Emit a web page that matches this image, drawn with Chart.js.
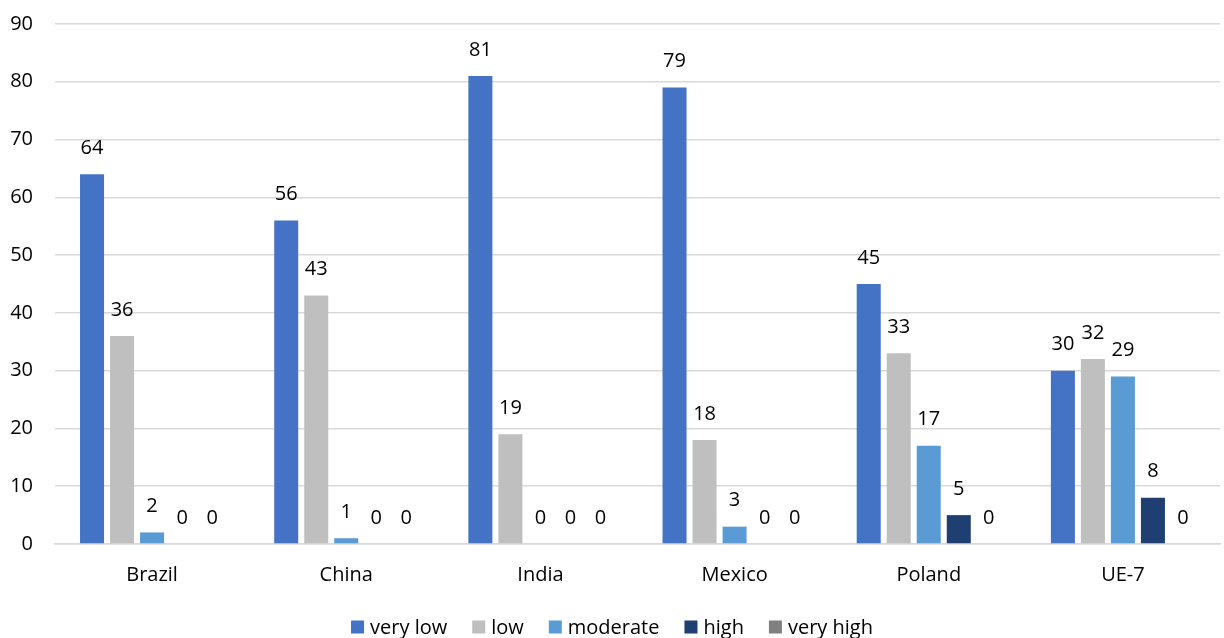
<!DOCTYPE html>
<html>
<head>
<meta charset="utf-8">
<script src="https://cdn.jsdelivr.net/npm/chart.js@4/dist/chart.umd.min.js"></script>
<style>
  html, body { margin: 0; padding: 0; background: #ffffff; }
  #wrap { width: 1224px; height: 638px; position: relative; }
</style>
</head>
<body>
<div id="wrap"><canvas id="c"></canvas></div>
<script>
// Countries on the horizontal axis
const countries = ['Brazil', 'China', 'India', 'Mexico', 'Poland', 'UE-7'];

// Share per level (percent)
const veryLow  = [64, 56, 81, 79, 45, 30];
const low      = [36, 43, 19, 18, 33, 32];
const moderate = [2, 1, 0, 3, 17, 29];
const high     = [0, 0, 0, 0, 5, 8];
const veryHigh = [0, 0, 0, 0, 0, 0];

const yTicks = { min: 0, max: 90, step: 10 };

const FONT = '"Open Sans", "Noto Sans", sans-serif';
const FONT_SIZE = 20;

// Prints each bar's value above its top
const valueLabels = {
  id: 'valueLabels',
  afterDatasetsDraw(chart) {
    const ctx = chart.ctx;
    ctx.save();
    ctx.font = FONT_SIZE + 'px ' + FONT;
    ctx.fillStyle = '#000000';
    ctx.textAlign = 'center';
    ctx.textBaseline = 'middle';
    chart.data.datasets.forEach((ds, di) => {
      const meta = chart.getDatasetMeta(di);
      meta.data.forEach((bar, i) => {
        ctx.fillText(String(ds.data[i]), bar.x, bar.y - 26);
      });
    });
    ctx.restore();
  }
};

// Single-row legend centred along the bottom edge
const bottomLegend = {
  id: 'bottomLegend',
  afterDraw(chart) {
    const ctx = chart.ctx;
    const box = 13, textGap = 6, itemGap = 25, y = 627;
    ctx.save();
    ctx.font = FONT_SIZE + 'px ' + FONT;
    ctx.textBaseline = 'middle';
    ctx.textAlign = 'left';
    const items = chart.data.datasets.map(ds => ({
      label: ds.label, color: ds.backgroundColor, w: ctx.measureText(ds.label).width
    }));
    const total = items.reduce((s, it) => s + box + textGap + it.w, 0) + itemGap * (items.length - 1);
    let x = (chart.width - total) / 2;
    items.forEach(it => {
      ctx.fillStyle = it.color;
      ctx.fillRect(x, y - box / 2, box, box);
      x += box + textGap;
      ctx.fillStyle = '#000000';
      ctx.fillText(it.label, x, y + 1);
      x += it.w + itemGap;
    });
    ctx.restore();
  }
};

new Chart(document.getElementById('c'), {
  type: 'bar',
  data: {
    labels: countries,
    datasets: [
      { label: 'very low',  data: veryLow,  backgroundColor: '#4472C4' },
      { label: 'low',       data: low,      backgroundColor: '#BFBFBF' },
      { label: 'moderate',  data: moderate, backgroundColor: '#5B9BD5' },
      { label: 'high',      data: high,     backgroundColor: '#1F3F73' },
      { label: 'very high', data: veryHigh, backgroundColor: '#808080' }
    ]
  },
  options: {
    responsive: true,
    maintainAspectRatio: false,
    animation: false,
    layout: { padding: { top: 24, right: 4, left: 0, bottom: 32 } },
    datasets: {
      bar: { categoryPercentage: 0.773, barPercentage: 0.8 }
    },
    scales: {
      x: {
        clip: false,
        grid: { display: false, drawTicks: false },
        border: { display: true, color: '#D9D9D9', width: 1.5 },
        ticks: { color: '#000000', font: { family: FONT, size: FONT_SIZE }, padding: 19 }
      },
      y: {
        clip: false,
        min: yTicks.min,
        max: yTicks.max,
        ticks: { stepSize: yTicks.step, color: '#000000', font: { family: FONT, size: FONT_SIZE }, padding: 22 },
        grid: { color: '#D9D9D9', lineWidth: 1.5, drawTicks: false },
        border: { display: false },
        afterFit(scale) {
          scale.width = 55;
          scale.paddingTop = 0;
          scale.paddingBottom = 0;
        }
      }
    },
    plugins: {
      tooltip: { enabled: false },
      legend: { display: false }
    }
  },
  plugins: [valueLabels, bottomLegend]
});
</script>
</body>
</html>
